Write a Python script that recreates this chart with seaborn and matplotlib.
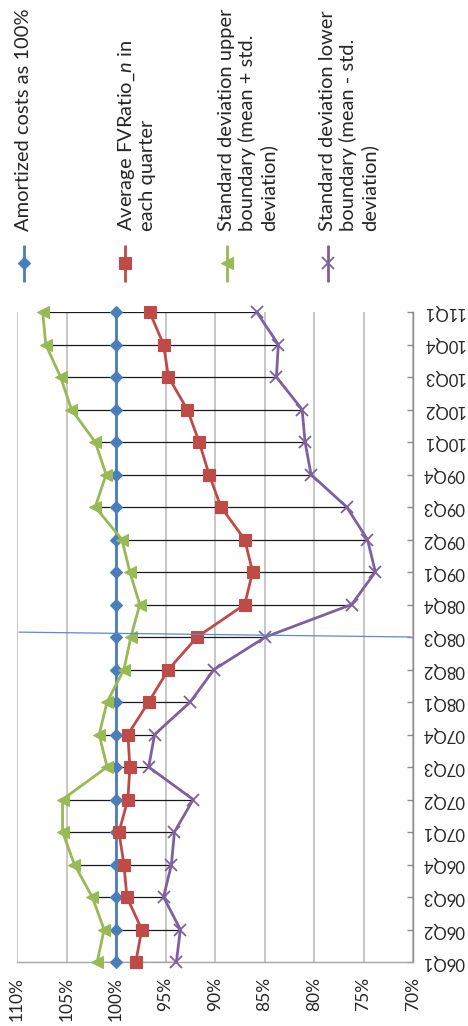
import matplotlib
matplotlib.use("Agg")
import matplotlib.pyplot as plt
import numpy as np
import pandas as pd
import seaborn as sns

# Quarterly fair-value ratios relative to amortized cost (percent)
quarters = ["06Q1", "06Q2", "06Q3", "06Q4", "07Q1", "07Q2", "07Q3", "07Q4",
            "08Q1", "08Q2", "08Q3", "08Q4", "09Q1", "09Q2", "09Q3", "09Q4",
            "10Q1", "10Q2", "10Q3", "10Q4", "11Q1"]
amortized = [100] * 21
average = [98.0, 97.4, 98.9, 99.2, 99.7, 98.8, 98.6, 98.8, 96.7, 94.7, 91.8,
           87.0, 86.2, 87.0, 89.4, 90.6, 91.6, 92.8, 94.7, 95.2, 96.6]
upper = [101.9, 101.2, 102.4, 104.2, 105.4, 105.4, 100.9, 101.7, 100.9, 99.2,
         98.5, 97.6, 98.6, 99.4, 102.1, 101.0, 102.1, 104.5, 105.6, 107.1, 107.4]
lower = [93.9, 93.5, 95.2, 94.4, 94.1, 92.2, 96.7, 96.1, 92.5, 90.1, 84.9,
         76.2, 73.8, 74.6, 76.7, 80.3, 80.9, 81.2, 83.8, 83.6, 85.8]
value_ticks = [110, 105, 100, 95, 90, 85, 80, 75, 70]

# Marker line drawn across the chart at the 08Q3 quarter
event_line_x = [109.8, 70.2]
event_line_q = [10.15, 10.0]

labels = ["Amortized costs as 100%",
          "Average FVRatio_$n$ in\neach quarter",
          "Standard deviation upper\nboundary (mean + std.\ndeviation)",
          "Standard deviation lower\nboundary (mean - std.\ndeviation)"]
colors = ["#4A7EBB", "#BE4B48", "#98B954", "#7D60A0"]
markers = ["D", "s", "<", "x"]
msizes = [6.3, 9.0, 9.0, 9.0]

sns.set_theme(style="white")
plt.rcParams["font.family"] = ["Lato", "DejaVu Sans"]
plt.rcParams["mathtext.fontset"] = "custom"
plt.rcParams["mathtext.it"] = "Lato:italic"
plt.rcParams["mathtext.rm"] = "Lato"

W, H = 468, 1026
fig = plt.figure(figsize=(W / 100, H / 100), dpi=100)
fig.patch.set_facecolor("white")

ax = fig.add_axes([17 / W, 64 / H, (413 - 17) / W, (962 - 312) / H])
ax.set_facecolor("white")

pos = np.arange(len(quarters))
df = pd.DataFrame({"pos": pos, "amortized": amortized, "average": average,
                   "upper": upper, "lower": lower})

# high-low connectors between the two boundaries
ax.hlines(df["pos"], df["upper"], df["lower"], color="#1a1a1a", lw=0.9, zorder=2)

series = ["amortized", "average", "upper", "lower"]
for col, c, m, ms in zip(series, colors, markers, msizes):
    sns.lineplot(data=df, x=col, y="pos", orient="y", sort=False, ax=ax,
                 color=c, lw=2.0, marker=m, markersize=ms,
                 markeredgecolor=c, markerfacecolor=c,
                 markeredgewidth=1.3 if m == "x" else 0.8, zorder=3)
for ln in ax.lines:
    ln.set_clip_on(False)

ax.plot(event_line_x, event_line_q, color="#5B8BC9", lw=0.9, zorder=4, clip_on=False)

ax.set_xlim(110, 70)
ax.set_ylim(0, len(quarters) - 1)
ax.set_xticks(value_ticks)
ax.set_xticklabels([f"{v}%" for v in value_ticks])
ax.set_yticks(pos)
ax.set_yticklabels(quarters)
ax.yaxis.tick_right()
ax.set_xlabel("")
ax.set_ylabel("")

ax.grid(axis="x", color="#BDBDBD", lw=1.2)
ax.grid(axis="y", visible=False)
for s in ["top", "left"]:
    ax.spines[s].set_visible(False)
ax.spines["right"].set_color("#8C8C8C")
ax.spines["right"].set_linewidth(1.0)
ax.spines["bottom"].set_color("#A6A6A6")
ax.spines["bottom"].set_linewidth(1.0)

ax.tick_params(axis="x", length=0, pad=11, labelsize=12.5, labelcolor="#262626",
               labelrotation=90)
ax.tick_params(axis="y", which="both", direction="in", length=4.5, width=1.0,
               color="#8C8C8C", pad=7, labelsize=12, labelcolor="#262626",
               labelrotation=180, left=False, right=True)
for t in ax.get_yticklabels():
    t.set_verticalalignment("center")

# legend, laid out as a row of rotated entries above the plot
lax = fig.add_axes([0, 0, 1, 1], zorder=-1)
lax.set_xlim(0, W)
lax.set_ylim(H, 0)
lax.axis("off")
leg_x = [24, 125, 227, 328]
for x, lab, c, m, ms in zip(leg_x, labels, colors, markers, msizes):
    lax.plot([x, x], [245, 282], color=c, lw=2.0, solid_capstyle="butt")
    lax.plot([x], [263], marker=m, markersize=ms, color=c, markeredgecolor=c,
             markeredgewidth=1.3 if m == "x" else 0.8, lw=0)
    lax.text(x - 9, 231, lab, rotation=90, ha="left", va="bottom",
             multialignment="left", fontsize=14.5, color="#262626", linespacing=1.2)

fig.savefig("out.png", dpi=100, facecolor="white")
